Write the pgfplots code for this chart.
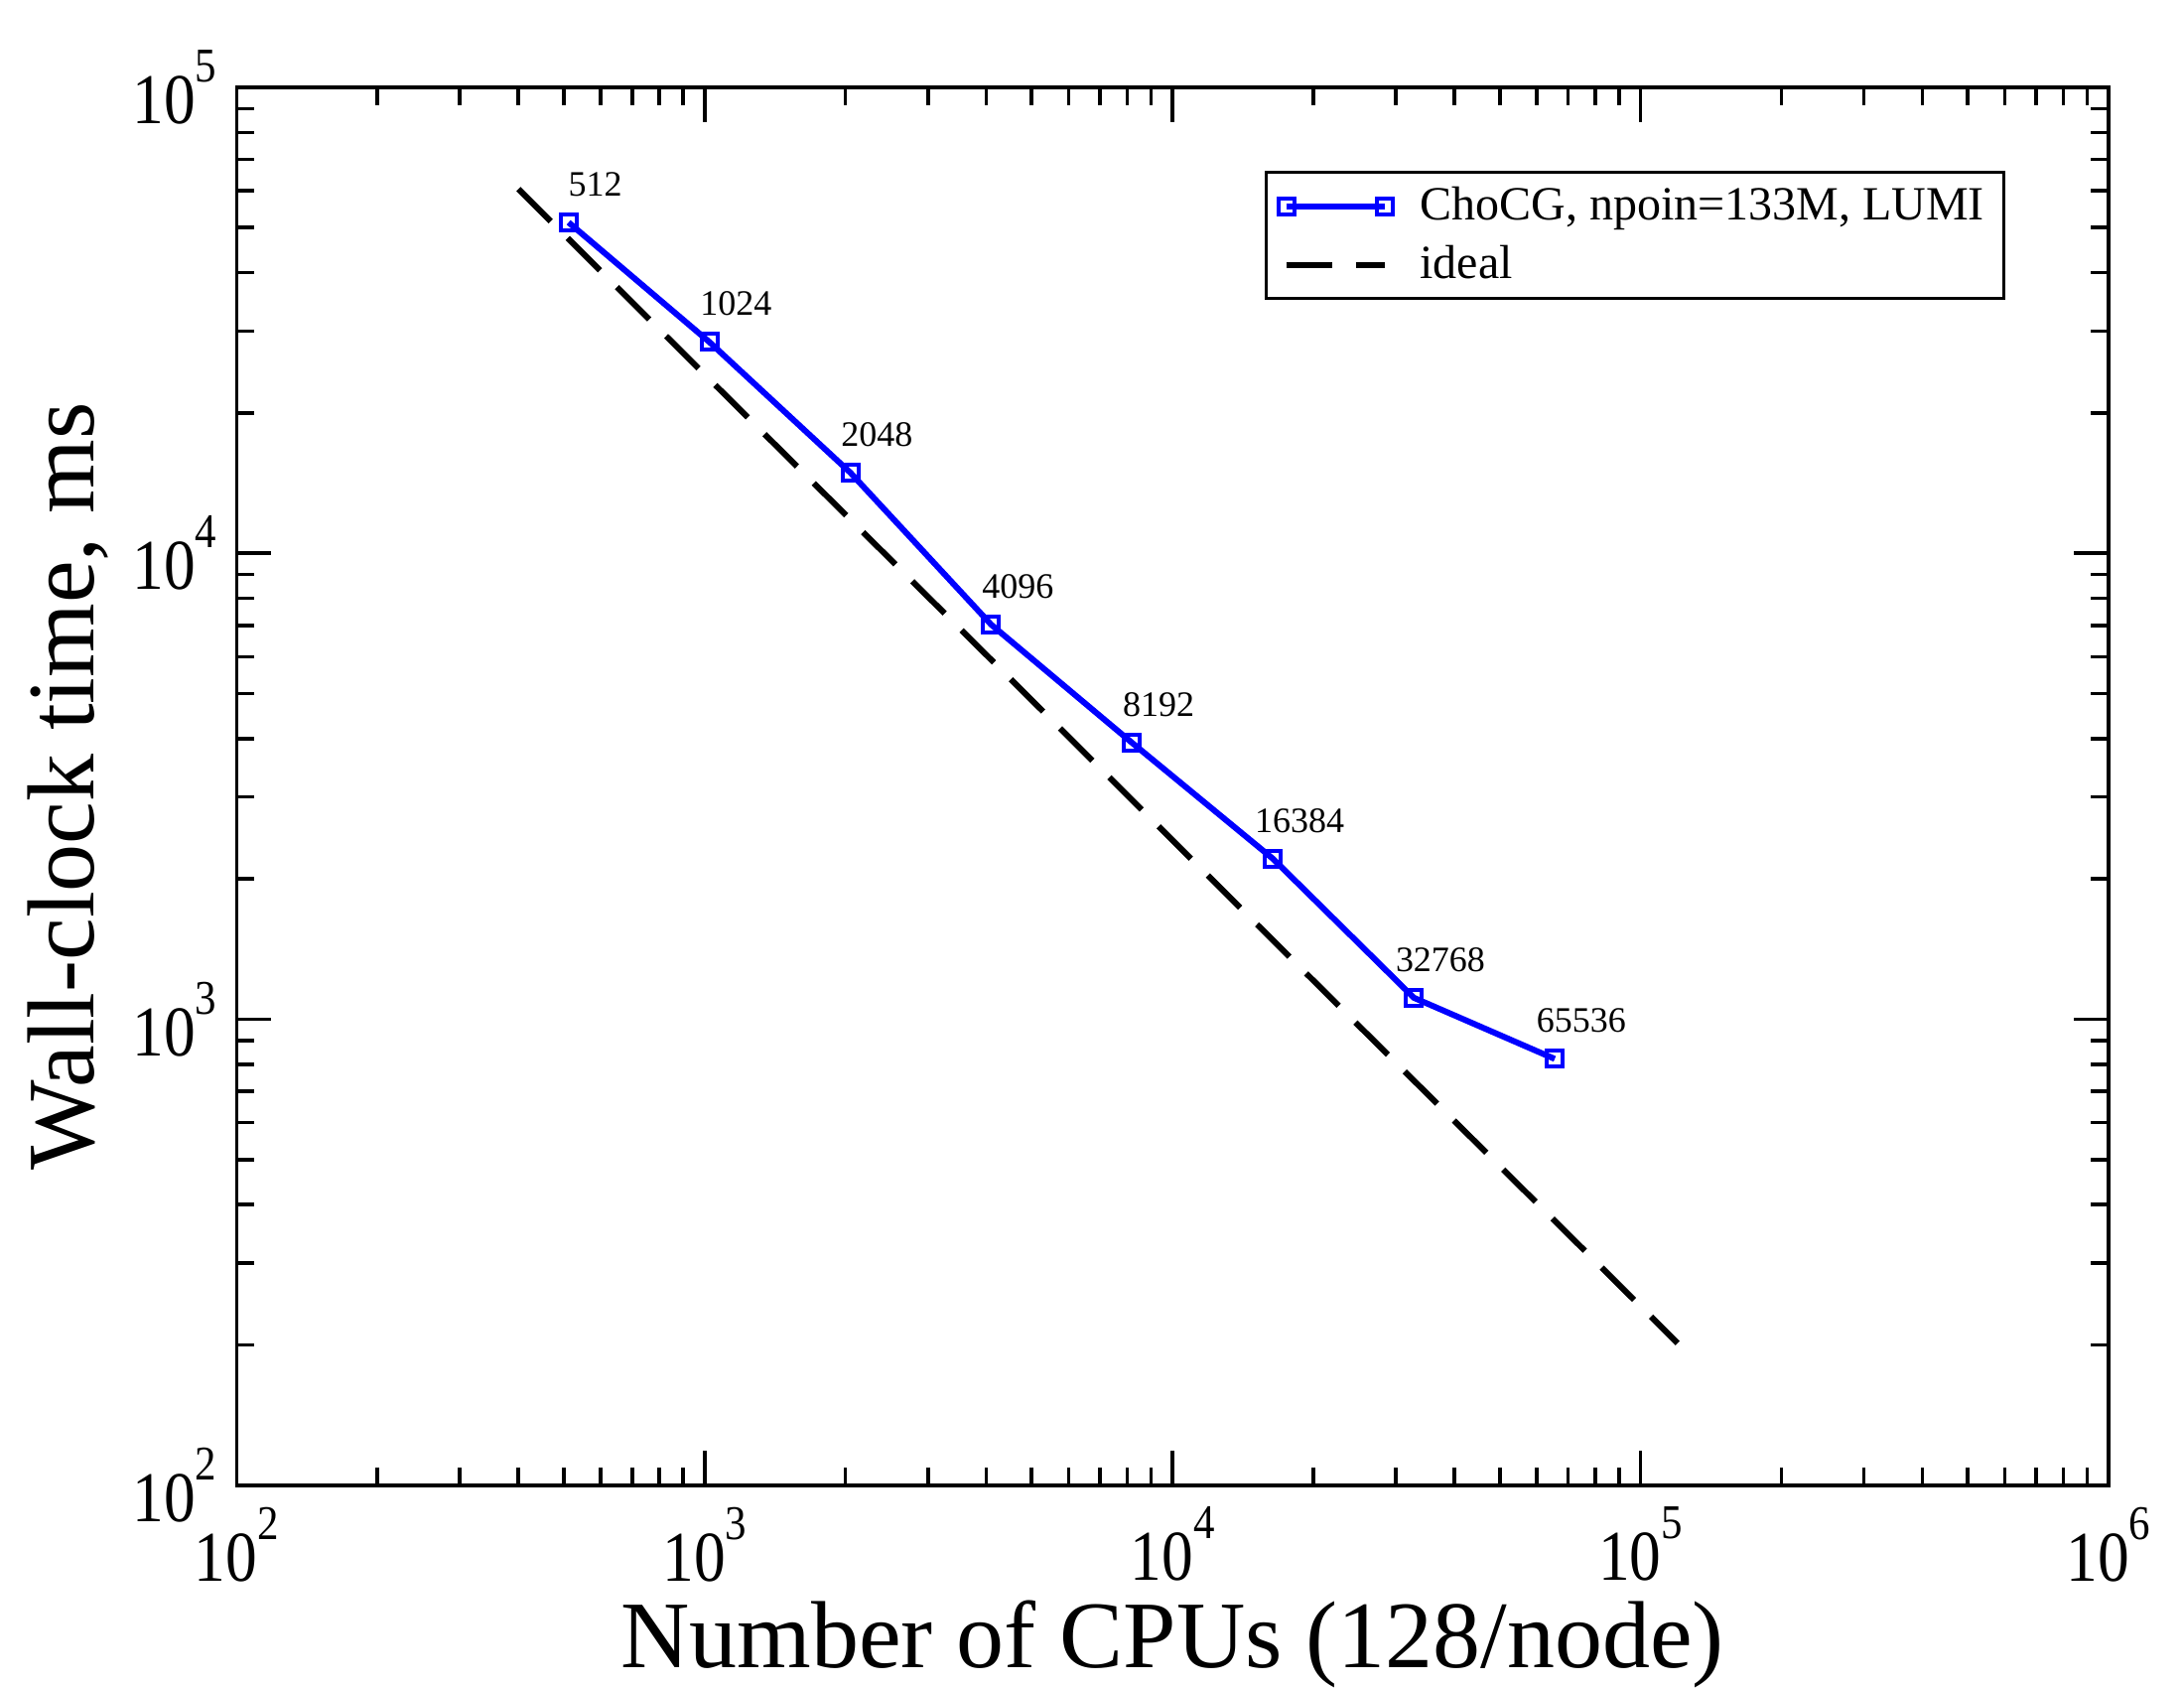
\documentclass[border=0pt]{standalone}
\usepackage{fontspec}
\setmainfont{Liberation Serif}
\newfontfamily\tickfont[FakeStretch=0.88]{Liberation Serif}
\usepackage{pgfplots}
\pgfplotsset{compat=1.18}
\pgfplotsset{
    longleg/.style={legend image code/.code={\draw[##1] plot coordinates {(0pt,0pt) (24.75pt,0pt)};}}
}
% power of ten as the reference sets it: superscript raised to the top of the digits
\newcommand\pten[1]{10\raisebox{10.5pt}{\fontsize{12.2}{14}\selectfont #1}}

\begin{document}
\begin{tikzpicture}
\begin{axis}[
    name=ax,
    scale only axis,
    width=471.5pt, height=352pt,
    xmode=log, ymode=log,
    xmin=100, xmax=1000000,
    ymin=100, ymax=100000,
    axis line style={line width=0.9pt},
    every tick/.style={black, line width=0.9pt},
    major tick length=8.75pt,
    minor tick length=4.4pt,
    xtick={100,1000,10000,100000,1000000},
    xticklabels={\pten{2},\pten{3},\pten{4},\pten{5},\pten{6}},
    ytick={100,1000,10000,100000},
    yticklabels={\pten{2},\pten{3},\pten{4},\pten{5}},
    tick label style={font=\tickfont\fontsize{18}{20}\selectfont},
    xticklabel style={yshift=-2pt},
    yticklabel style={xshift=-1.5pt},
    xlabel={Number of CPUs (128/node)},
    ylabel={Wall-clock time, ms},
    label style={font=\fontsize{24}{28}\selectfont},
    xlabel style={yshift=2pt},
    ylabel style={yshift=-0.75pt},
    legend style={at={(0.945,0.94)}, anchor=north east, draw=black,
        line width=0.75pt, font=\fontsize{12}{14}\selectfont,
        row sep=1pt, inner xsep=3pt, inner ysep=1.5pt,
        /tikz/every odd column/.append style={column sep=5pt}},
    legend cell align=left,
]
\addplot[blue, line width=1.5pt, mark=square, mark size=2pt,
    mark options={solid, line width=1pt},
    point meta=explicit symbolic,
    nodes near coords,
    nodes near coords style={anchor=base, xshift=6.7pt, yshift=6.7pt,
        text=black, font=\fontsize{9}{10}\selectfont},
    longleg]
    coordinates {
    (512,51300)[512]
    (1024,28400)[1024]
    (2048,14900)[2048]
    (4096,7030)[4096]
    (8192,3920)[8192]
    (16384,2210)[16384]
    (32768,1112)[32768]
    (65536,822)[65536]
    };
\addlegendentry{ChoCG, npoin=133M, LUMI}

\addplot[black, line width=1.5pt, dash pattern=on 11.5pt off 6pt, longleg]
    coordinates {(400,60500) (120000,201.7)};
\addlegendentry{ideal}
\end{axis}
\pgfresetboundingbox
\path ([xshift=-59.6pt,yshift=-51pt]ax.south west) rectangle ([xshift=19pt,yshift=22pt]ax.north east);
\end{tikzpicture}
\end{document}
